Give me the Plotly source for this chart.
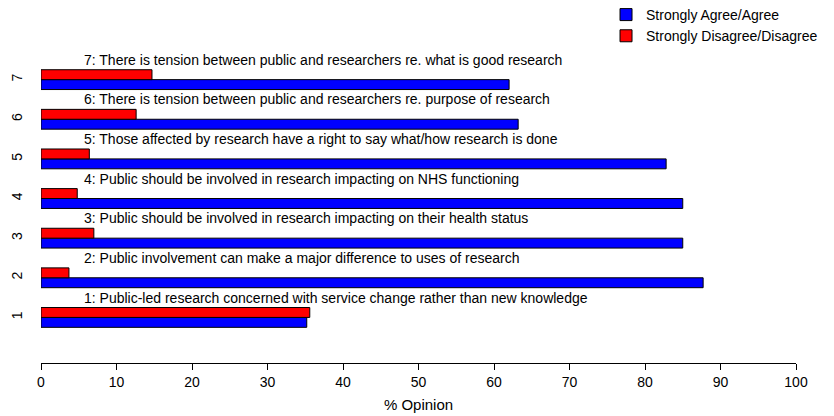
import plotly.graph_objects as go

items = [1, 2, 3, 4, 5, 6, 7]
statements = [
    "1: Public-led research concerned with service change rather than new knowledge",
    "2: Public involvement can make a major difference to uses of research",
    "3: Public should be involved in research impacting on their health status",
    "4: Public should be involved in research impacting on NHS functioning",
    "5: Those affected by research have a right to say what/how research is done",
    "6: There is tension between public and researchers re. purpose of research",
    "7: There is tension between public and researchers re. what is good research",
]
agree = [35.2, 87.7, 85.0, 85.0, 82.8, 63.2, 62.0]
disagree = [35.6, 3.7, 7.0, 4.8, 6.4, 12.6, 14.7]
x_ticks = list(range(0, 101, 10))

FONT = "Liberation Sans, Arial, sans-serif"

fig = go.Figure()
fig.add_trace(go.Bar(
    y=items, x=agree, orientation="h", name="Strongly Agree/Agree",
    marker=dict(color="#0000FF", line=dict(color="black", width=1)),
))
fig.add_trace(go.Bar(
    y=items, x=disagree, orientation="h", name="Strongly Disagree/Disagree",
    marker=dict(color="#FF0000", line=dict(color="black", width=1)),
))

for i, s in zip(items, statements):
    fig.add_annotation(x=5.4, y=i + 0.5, text=s, showarrow=False,
                       xanchor="left", yanchor="middle",
                       font=dict(family=FONT, size=14, color="black"))

fig.update_layout(
    width=826, height=408,
    margin=dict(l=33, r=38, t=32, b=53, autoexpand=False),
    paper_bgcolor="white", plot_bgcolor="white",
    barmode="group", bargap=0.5, bargroupgap=0,
    font=dict(family=FONT, size=14, color="black"),
    legend=dict(x=0.724, y=1.127, xref="container", yref="paper",
                xanchor="left", yanchor="top",
                traceorder="normal", font=dict(size=14),
                bgcolor="rgba(0,0,0,0)"),
    xaxis=dict(range=[0, 100], tickvals=x_ticks, showgrid=False,
               zeroline=False, showline=True, linecolor="black",
               linewidth=1, ticks="outside", ticklen=6, tickcolor="black",
               automargin=False,
               title=dict(text="% Opinion", standoff=10, font=dict(size=15)),
               tickfont=dict(size=14)),
    yaxis=dict(range=[-0.15, 8.0], tickvals=items,
               ticktext=[str(i) for i in items], tickangle=-90,
               showgrid=False, zeroline=False, showline=False,
               automargin=False,
               ticklabelstandoff=15, tickfont=dict(size=14)),
)

fig.write_html("out.html")
